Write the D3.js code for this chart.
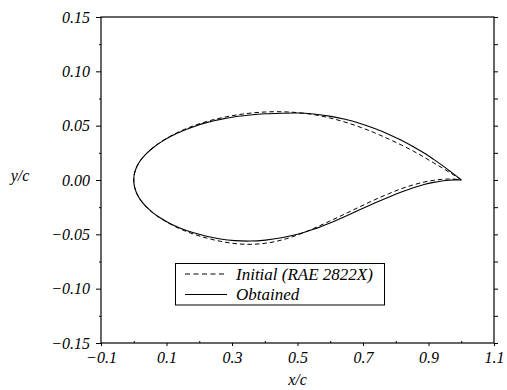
<!DOCTYPE html>
<html>
<head>
<meta charset="utf-8">
<script src="https://cdn.jsdelivr.net/npm/d3@7"></script>
<style>
  body { margin: 0; background: #fff; }
  svg { display: block; }
  text { font-family: "Liberation Serif", "Times New Roman", serif; font-style: italic; }
</style>
</head>
<body>
<div id="container"></div>
<script>
// chord stations shared by both surfaces
const xStations = [0, 0.0024, 0.0096, 0.0215, 0.038, 0.059, 0.0843, 0.1135, 0.1464, 0.1828,
    0.2222, 0.2643, 0.3087, 0.3549, 0.4025, 0.451, 0.5, 0.549, 0.5975, 0.6451, 0.6913,
    0.7357, 0.7778, 0.8172, 0.8536, 0.8865, 0.9157, 0.941, 0.9619, 0.9785, 0.9904, 0.9976, 1.0];

const initialUpper = [0, 0.0063, 0.0125, 0.0184, 0.0242, 0.0299, 0.0354, 0.0406, 0.0455, 0.0499,
    0.0538, 0.0570, 0.0596, 0.0615, 0.0626, 0.0628, 0.0620, 0.0602, 0.0572, 0.0533, 0.0486,
    0.0434, 0.0378, 0.0322, 0.0266, 0.0210, 0.0158, 0.0113, 0.0074, 0.0043, 0.0020, 0.0006, 0];
const initialLower = [0, -0.0063, -0.0126, -0.0187, -0.0247, -0.0304, -0.0358, -0.0409, -0.0456, -0.0498,
    -0.0534, -0.0564, -0.0585, -0.0592, -0.0582, -0.0553, -0.0506, -0.0446, -0.0380, -0.0312, -0.0245,
    -0.0182, -0.0127, -0.0080, -0.0045, -0.0019, -0.0003, 0.0006, 0.0009, 0.0008, 0.0004, 0.0001, 0];

const obtainedUpper = [0, 0.0063, 0.0125, 0.0184, 0.0241, 0.0297, 0.0351, 0.0402, 0.0449, 0.0491,
    0.0528, 0.0558, 0.0582, 0.0598, 0.0609, 0.0614, 0.0616, 0.0607, 0.0588, 0.0559, 0.0520,
    0.0474, 0.0422, 0.0365, 0.0306, 0.0248, 0.0190, 0.0137, 0.0090, 0.0052, 0.0024, 0.0007, 0];
const obtainedLower = [0, -0.0063, -0.0126, -0.0187, -0.0246, -0.0302, -0.0355, -0.0405, -0.0448, -0.0486,
    -0.0518, -0.0543, -0.0558, -0.0562, -0.0553, -0.0532, -0.0500, -0.0454, -0.0398, -0.0336, -0.0272,
    -0.0212, -0.0158, -0.0111, -0.0072, -0.0042, -0.0022, -0.0009, -0.0002, 0.0001, 0.0001, 0, 0];

const xMajor = [-0.1, 0.1, 0.3, 0.5, 0.7, 0.9, 1.1];
const xMinor = [0, 0.2, 0.4, 0.6, 0.8, 1.0];
const yMajor = [-0.15, -0.10, -0.05, 0, 0.05, 0.10, 0.15];
const yMinor = [-0.125, -0.075, -0.025, 0.025, 0.075, 0.125];

const legendLabels = ['Initial (RAE 2822X)', 'Obtained'];
const legendDash = ['5,3.5', null];

const W = 507, H = 390;
const svg = d3.select('#container')
    .append('svg')
    .attr('width', W)
    .attr('height', H);

const x = d3.scaleLinear().domain([-0.1, 1.1]).range([101, 494]);
const y = d3.scaleLinear().domain([-0.15, 0.15]).range([343, 17]);

// closed contour: trailing edge -> upper -> leading edge -> lower -> trailing edge
const contour = (upper, lower) => {
    const pts = [];
    for (let i = xStations.length - 1; i >= 0; i--) pts.push([xStations[i], upper[i]]);
    for (let i = 1; i < xStations.length; i++) pts.push([xStations[i], lower[i]]);
    return pts;
};
const line = d3.line()
    .x(d => x(d[0]))
    .y(d => y(d[1]))
    .curve(d3.curveCatmullRom.alpha(0.5));

svg.append('path')
    .attr('d', line(contour(initialUpper, initialLower)))
    .attr('fill', 'none')
    .attr('stroke', '#000')
    .attr('stroke-width', 1)
    .attr('stroke-dasharray', '4.5,3');

svg.append('path')
    .attr('d', line(contour(obtainedUpper, obtainedLower)))
    .attr('fill', 'none')
    .attr('stroke', '#000')
    .attr('stroke-width', 1.1);

// axes
const styleAxis = g => {
    g.select('.domain').remove();
    g.selectAll('line').attr('stroke', '#000').attr('stroke-width', 1);
    g.selectAll('text').attr('font-size', 16).attr('fill', '#000')
        .attr('font-family', '"Liberation Serif", serif').attr('font-style', 'italic');
};

svg.append('g')
    .attr('transform', `translate(${x.range()[0]},0)`)
    .call(d3.axisLeft(y).tickValues(yMajor).tickSize(5).tickPadding(6).tickFormat(d3.format('.2f')))
    .call(styleAxis);
svg.append('g')
    .attr('transform', `translate(${x.range()[0]},0)`)
    .call(d3.axisLeft(y).tickValues(yMinor).tickSize(2).tickFormat(''))
    .call(styleAxis);

svg.append('g')
    .attr('transform', `translate(${x.range()[1]},0)`)
    .call(d3.axisRight(y).tickValues(yMajor.concat(yMinor)).tickSize(4).tickFormat(''))
    .call(styleAxis);

svg.append('g')
    .attr('transform', `translate(0,${y.range()[0]})`)
    .call(d3.axisBottom(x).tickValues(xMajor).tickSize(3).tickPadding(6).tickFormat(d3.format('.1f')))
    .call(styleAxis);
svg.append('g')
    .attr('transform', `translate(0,${y.range()[0]})`)
    .call(d3.axisBottom(x).tickValues(xMinor).tickSize(-2).tickFormat(''))
    .call(styleAxis);

// frame
svg.append('rect')
    .attr('x', x.range()[0])
    .attr('y', y.range()[1])
    .attr('width', x.range()[1] - x.range()[0])
    .attr('height', y.range()[0] - y.range()[1])
    .attr('fill', 'none')
    .attr('stroke', '#000')
    .attr('stroke-width', 1.2);

// axis titles
svg.append('text')
    .attr('x', (x.range()[0] + x.range()[1]) / 2)
    .attr('y', 385)
    .attr('text-anchor', 'middle')
    .attr('font-size', 16)
    .text('x/c');
svg.append('text')
    .attr('x', 20)
    .attr('y', 181)
    .attr('text-anchor', 'middle')
    .attr('font-size', 16)
    .text('y/c');

// legend
const legend = svg.append('g');
legend.append('rect')
    .attr('x', 175.5)
    .attr('y', 263.5)
    .attr('width', 209)
    .attr('height', 41.5)
    .attr('fill', '#fff')
    .attr('stroke', '#000')
    .attr('stroke-width', 1);
legendLabels.forEach((lab, i) => {
    const ly = 274 + i * 20.5;
    legend.append('line')
        .attr('x1', 185).attr('x2', 227)
        .attr('y1', ly).attr('y2', ly)
        .attr('stroke', '#000')
        .attr('stroke-width', 1)
        .attr('stroke-dasharray', legendDash[i]);
    legend.append('text')
        .attr('x', 236)
        .attr('y', ly + 5.5)
        .attr('font-size', 17)
        .text(lab);
});
</script>
</body>
</html>
